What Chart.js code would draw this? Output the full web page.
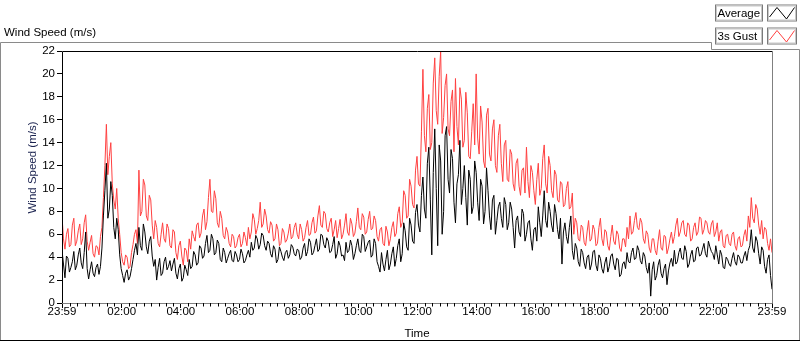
<!DOCTYPE html>
<html><head><meta charset="utf-8">
<script src="https://cdn.jsdelivr.net/npm/chart.js@4"></script>
<style>html,body{margin:0;padding:0;background:#fff;}#wrap{width:800px;height:342px;position:relative;}</style>
</head><body><div id="wrap"><canvas id="c" width="800" height="342"></canvas></div>
<script>
// minutes between samples (starting at 23:59)
const stepMinutes = 3;

const average = [
4.6,3.4,2.2,4.1,3.9,2.7,3.1,3.6,4.5,2.9,3.3,4.2,4.8,3.5,3.0,4.4,6.2,3.0,2.1,2.9,
3.6,2.6,2.3,3.1,3.4,2.5,3.2,4.8,7.6,9.8,12.2,7.4,8.2,10.6,9.4,6.6,5.6,7.4,6.4,4.2,
3.0,2.4,1.8,2.6,2.9,2.0,2.3,3.0,3.8,4.6,5.2,4.2,6.6,5.0,4.6,6.9,6.2,4.9,4.3,5.4,
5.8,4.1,3.2,3.8,2.0,3.1,3.9,2.4,2.6,3.6,4.0,2.9,3.2,3.7,2.8,3.4,3.9,2.6,2.1,3.0,
3.4,1.9,2.2,3.3,2.9,2.4,3.8,3.0,3.2,4.5,4.2,3.3,3.5,5.0,4.8,3.9,4.1,5.2,5.9,4.4,
4.6,6.0,5.6,4.2,4.4,5.5,5.2,3.8,3.6,4.8,4.4,3.5,3.9,4.3,4.6,3.7,3.6,4.5,4.2,3.6,
3.8,4.7,4.3,3.5,3.7,4.2,4.6,4.0,5.3,4.6,4.8,5.9,5.6,4.7,5.1,6.1,5.9,5.0,4.6,5.4,
5.2,4.3,4.0,5.0,4.7,3.5,3.8,4.9,4.5,4.0,3.7,4.4,4.6,3.9,4.2,5.1,4.9,4.3,4.1,4.7,
4.6,3.8,4.0,4.8,5.2,4.1,4.5,5.6,5.3,4.2,4.4,5.0,5.6,4.5,4.7,6.0,5.9,5.1,4.8,5.7,
5.4,4.4,4.5,5.1,5.8,3.9,4.3,5.4,5.0,4.1,4.2,3.7,5.3,4.4,4.6,5.5,5.0,3.8,4.3,5.0,
5.6,4.6,4.4,6.0,5.8,4.5,4.9,5.3,5.5,4.0,4.2,5.6,5.2,3.6,3.2,2.7,4.4,3.4,2.8,3.8,
4.6,2.9,3.4,4.3,4.9,3.2,3.9,5.0,5.6,3.6,4.3,7.0,6.3,4.9,4.6,7.4,6.8,5.4,5.2,7.9,
8.6,6.8,6.2,9.4,11.0,8.2,7.4,12.2,13.6,9.0,4.2,11.4,15.2,10.0,5.0,13.8,12.4,6.0,8.0,14.6,
15.4,10.8,9.6,13.4,12.6,8.8,7.0,10.4,11.2,14.2,8.6,10.0,12.0,9.2,6.8,11.6,10.8,7.8,8.4,12.4,
11.4,8.8,7.2,10.8,10.2,6.9,8.0,11.8,9.8,7.6,6.4,9.0,9.4,6.0,7.2,8.4,8.8,7.4,6.6,9.2,
8.6,6.4,7.0,8.8,8.2,6.6,4.8,7.2,7.6,6.2,5.8,8.2,7.8,5.4,6.0,7.0,7.2,5.6,4.6,6.4,
6.6,5.4,8.4,7.0,5.8,7.6,9.8,7.2,6.6,8.8,8.0,6.8,6.2,8.6,7.8,6.4,5.6,7.4,3.4,6.2,
7.0,5.8,5.2,6.6,7.6,4.6,3.8,5.2,4.8,3.6,3.2,4.7,4.4,3.5,3.0,4.0,4.2,2.9,3.4,4.5,
4.6,3.3,2.8,4.2,3.9,3.0,2.6,3.5,4.0,2.7,3.2,4.1,4.3,3.4,2.9,3.9,3.8,2.3,2.5,3.4,
3.6,3.0,4.4,3.6,3.5,4.4,4.8,3.8,3.9,5.0,4.6,3.7,3.4,4.4,4.1,3.1,2.6,3.5,0.6,2.9,
3.6,2.0,2.4,3.3,3.8,2.6,2.2,3.0,3.4,1.6,2.8,3.5,3.9,3.2,4.6,3.4,3.6,4.4,4.8,3.9,
3.8,5.0,4.5,3.1,3.4,4.2,4.6,3.6,3.7,4.8,4.9,4.1,4.2,4.7,5.2,4.3,4.0,5.4,4.9,4.5,
4.3,3.8,5.0,4.2,3.4,4.6,4.2,3.1,3.0,4.0,3.8,3.4,3.2,3.9,4.4,3.6,3.3,4.2,4.0,3.5,
3.5,4.1,4.5,3.7,4.6,5.0,6.4,4.8,4.4,5.8,5.4,4.3,3.4,4.9,4.6,3.2,2.6,3.8,4.2,2.4,
1.2
];

const gust = [
7.6,5.6,4.7,6.0,6.5,4.9,5.1,6.8,7.4,5.0,5.4,6.3,6.9,5.1,5.6,7.0,7.7,5.4,4.6,5.3,
5.9,4.3,4.0,5.0,4.9,4.2,5.8,6.6,9.2,12.0,15.6,11.2,12.8,14.0,10.4,9.0,8.2,10.0,7.4,6.0,
4.4,3.6,3.3,4.2,4.0,3.0,3.2,4.4,5.1,6.0,6.4,5.2,11.6,7.6,8.0,10.8,10.3,7.6,7.2,9.4,
9.0,6.8,5.6,7.2,6.6,5.2,4.9,6.0,7.0,5.6,5.3,6.9,6.5,5.0,4.8,6.4,6.2,4.4,3.8,5.0,
5.4,4.1,3.3,4.8,4.6,3.6,5.6,4.7,6.3,5.8,5.4,6.8,7.0,5.7,6.1,7.6,8.2,6.4,7.1,9.2,
10.8,8.0,7.9,9.8,9.1,7.0,6.6,8.0,7.4,5.9,5.6,6.6,6.2,5.2,4.9,6.0,5.8,4.8,5.0,5.7,
6.0,4.9,5.2,6.2,5.7,5.0,6.6,5.6,6.2,7.8,7.3,6.0,6.5,7.2,8.8,6.6,6.9,8.2,7.6,6.4,
6.1,7.1,6.8,5.4,5.6,6.9,6.4,5.0,5.2,6.5,6.2,5.3,5.5,6.1,6.9,5.6,5.8,6.6,7.0,6.0,
5.6,6.9,6.4,5.4,5.7,6.6,7.2,5.9,6.0,7.0,7.5,6.1,6.3,7.6,8.5,6.8,6.6,8.0,7.8,6.5,
6.2,7.0,7.4,5.8,6.4,7.2,5.7,6.5,7.3,5.6,6.0,6.8,7.8,6.2,5.9,7.4,6.9,5.8,6.1,7.1,
8.3,6.6,6.4,7.8,7.5,6.0,6.2,7.3,8.0,6.4,6.5,7.6,7.2,5.8,5.4,6.4,6.6,5.2,5.0,6.7,
6.2,5.0,5.6,6.6,7.1,5.8,6.1,7.8,8.4,6.6,7.0,9.8,9.4,7.4,7.6,10.8,10.2,8.6,8.3,11.6,
12.8,10.4,10.2,15.0,20.4,14.6,13.2,17.0,18.2,13.4,14.0,19.2,21.4,16.8,15.6,19.8,22.0,14.8,16.2,19.0,
20.0,15.2,14.6,17.6,18.6,13.2,19.6,15.4,13.8,18.8,17.8,13.6,14.2,18.4,16.6,12.8,12.6,15.0,17.4,13.8,
20.0,14.4,13.0,17.2,15.8,12.4,11.8,16.4,17.0,13.0,12.4,15.2,16.0,12.0,11.4,14.6,15.6,12.2,10.6,13.8,
14.2,10.8,10.6,13.4,13.0,10.4,9.8,12.2,12.6,10.2,9.4,11.6,11.8,9.6,13.6,10.6,9.2,12.0,11.4,9.8,
8.6,10.8,12.2,9.4,10.0,12.6,13.8,10.4,9.6,12.8,12.0,9.8,9.2,11.6,11.2,9.0,8.8,10.6,10.4,8.4,
8.6,10.0,10.6,8.2,8.4,9.6,6.0,7.4,7.0,5.6,5.4,6.8,6.6,5.3,5.0,6.2,7.2,5.4,5.6,6.8,
6.4,5.0,5.2,6.6,7.4,5.6,5.0,6.4,6.2,5.0,4.6,5.8,6.8,5.4,5.1,6.3,6.0,4.8,4.5,5.6,
5.6,4.9,6.6,5.6,7.6,6.0,6.2,7.2,7.9,6.6,6.4,7.4,7.0,5.6,5.2,6.3,6.0,4.8,4.4,5.6,
5.6,4.6,4.2,5.4,6.4,4.8,4.6,5.9,5.8,4.3,4.8,5.6,6.2,5.2,5.8,6.8,7.4,5.8,6.2,7.0,
7.2,6.0,5.8,7.0,6.8,5.4,5.6,6.6,7.0,5.9,6.2,7.5,7.4,6.0,6.4,7.2,7.0,6.2,6.0,6.9,
7.2,5.8,6.2,7.0,5.4,6.2,6.4,5.0,4.8,5.9,6.0,5.2,5.0,6.0,6.2,5.0,4.6,5.6,5.8,4.9,
5.0,5.9,6.4,5.4,7.6,6.6,9.2,7.4,7.0,8.6,8.2,6.8,6.0,7.2,5.6,6.6,6.4,5.2,4.6,5.6,
4.4
];

// major time ticks (minutes after 23:59) and their labels
const tickMinutes = [0,121,241,361,481,601,721,841,961,1081,1201,1321,1440];
const tickLabels = ['23:59','02:00','04:00','06:00','08:00','10:00','12:00','14:00','16:00','18:00','20:00','22:00','23:59'];
const minorStep = 15;

const seriesNames = ['Average','3s Gust'];
const seriesColors = ['#000000','#ff4040'];
const yTicks = [0,2,4,6,8,10,12,14,16,18,20,22];

const FONT = "'Liberation Sans', Arial, sans-serif";

const toPts = arr => arr.map((v,i)=>({x:i*stepMinutes, y:v}));

const decor = {
  id:'decor',
  afterDraw(chart){
    const ctx = chart.ctx, a = chart.chartArea;
    const xs = chart.scales.x;
    ctx.save();
    // outer panel
    ctx.lineWidth = 1;
    ctx.strokeStyle = '#8a8a8a';
    ctx.beginPath();
    ctx.moveTo(0.5,341); ctx.lineTo(0.5,42.5); ctx.lineTo(711.5,42.5);
    ctx.lineTo(711.5,49.5); ctx.lineTo(799.5,49.5); ctx.lineTo(799.5,341);
    ctx.stroke();
    ctx.strokeStyle = '#000';
    ctx.beginPath(); ctx.moveTo(0,340.5); ctx.lineTo(800,340.5); ctx.stroke();
    // plot frame
    ctx.strokeStyle = '#000';
    ctx.beginPath();
    ctx.moveTo(a.left+0.5, a.bottom); ctx.lineTo(a.left+0.5, a.top+0.5); ctx.lineTo(a.right+0.5, a.top+0.5);
    ctx.stroke();
    ctx.strokeStyle = '#808080';
    ctx.beginPath();
    ctx.moveTo(a.right+0.5, a.top+0.5); ctx.lineTo(a.right+0.5, a.bottom+0.5); ctx.lineTo(a.left, a.bottom+0.5);
    ctx.stroke();
    // minor x ticks
    ctx.strokeStyle = '#000';
    ctx.beginPath();
    for (let m = 1 + minorStep; m < 1440; m += minorStep) {
      if (tickMinutes.includes(m)) continue;
      const px = Math.round(xs.getPixelForValue(m)) + 0.5;
      ctx.moveTo(px, a.bottom); ctx.lineTo(px, a.bottom + 3.5);
    }
    ctx.stroke();
    // titles
    ctx.fillStyle = '#000';
    ctx.font = '11.5px ' + FONT;
    ctx.textBaseline = 'alphabetic';
    ctx.textAlign = 'left';
    ctx.fillText('Wind Speed (m/s)', 4, 35.5);
    ctx.textAlign = 'center';
    ctx.fillText('Time', (a.left + a.right)/2, 337.3);
    ctx.save();
    ctx.fillStyle = '#1c2450';
    ctx.translate(35.5, 167.5);
    ctx.rotate(-Math.PI/2);
    ctx.fillText('Wind Speed (m/s)', 0, 0);
    ctx.restore();
    // legend
    const rows = [4.5, 27.5];
    rows.forEach((ty, k) => {
      ctx.fillStyle = '#fff';
      ctx.fillRect(715, ty, 47, 16.5);
      ctx.fillRect(767, ty, 29, 16.5);
      ctx.strokeStyle = '#7a7a7a'; ctx.lineWidth = 1;
      ctx.strokeRect(715.5, ty+0.5, 47, 16);
      ctx.strokeRect(767.5, ty+0.5, 29, 16);
      ctx.strokeStyle = '#c8c8c8';
      ctx.strokeRect(716.5, ty+1.5, 45, 14);
      ctx.strokeRect(768.5, ty+1.5, 27, 14);
      ctx.fillStyle = '#000';
      ctx.textAlign = 'left';
      ctx.font = '11.5px ' + FONT;
      ctx.fillText(seriesNames[k], 717.5, ty + 12);
      ctx.strokeStyle = seriesColors[k];
      ctx.beginPath();
      ctx.moveTo(769.5, ty + 12.5); ctx.lineTo(777, ty + 3); ctx.lineTo(786.5, ty + 14.5); ctx.lineTo(794.5, ty + 3);
      ctx.stroke();
    });
    ctx.restore();
  }
};

new Chart(document.getElementById('c'), {
  type: 'line',
  data: {
    datasets: [
      { label: seriesNames[0], data: toPts(average), borderColor: seriesColors[0], borderWidth: 1, pointRadius: 0, tension: 0, fill: false },
      { label: seriesNames[1], data: toPts(gust), borderColor: seriesColors[1], borderWidth: 1, pointRadius: 0, tension: 0, fill: false }
    ]
  },
  options: {
    responsive: false,
    devicePixelRatio: 1,
    animation: false,
    events: [],
    layout: { padding: { top: 51, right: 28, left: 0, bottom: 0 } },
    plugins: { legend: { display: false }, tooltip: { enabled: false }, title: { display: false } },
    scales: {
      x: {
        type: 'linear', min: 0, max: 1440,
        afterBuildTicks: s => { s.ticks = tickMinutes.map(v => ({ value: v })); },
        afterFit: s => { s.height = 39; },
        ticks: { autoSkip: false, maxRotation: 0, minRotation: 0, padding: -3,
                 color: '#000', font: { family: FONT, size: 11.5 },
                 callback: (v, i) => tickLabels[i] },
        grid: { display: true, drawOnChartArea: false, drawTicks: true, tickLength: 5, tickColor: '#000' },
        border: { display: false }
      },
      y: {
        type: 'linear', min: 0, max: 22,
        afterBuildTicks: s => { s.ticks = yTicks.map(v => ({ value: v })); },
        afterFit: s => { s.width = 62; },
        ticks: { padding: 2, color: '#000', font: { family: FONT, size: 11.5 } },
        grid: { display: true, drawOnChartArea: false, drawTicks: true, tickLength: 5, tickColor: '#000' },
        border: { display: false }
      }
    }
  },
  plugins: [decor]
});
</script>
</body></html>
